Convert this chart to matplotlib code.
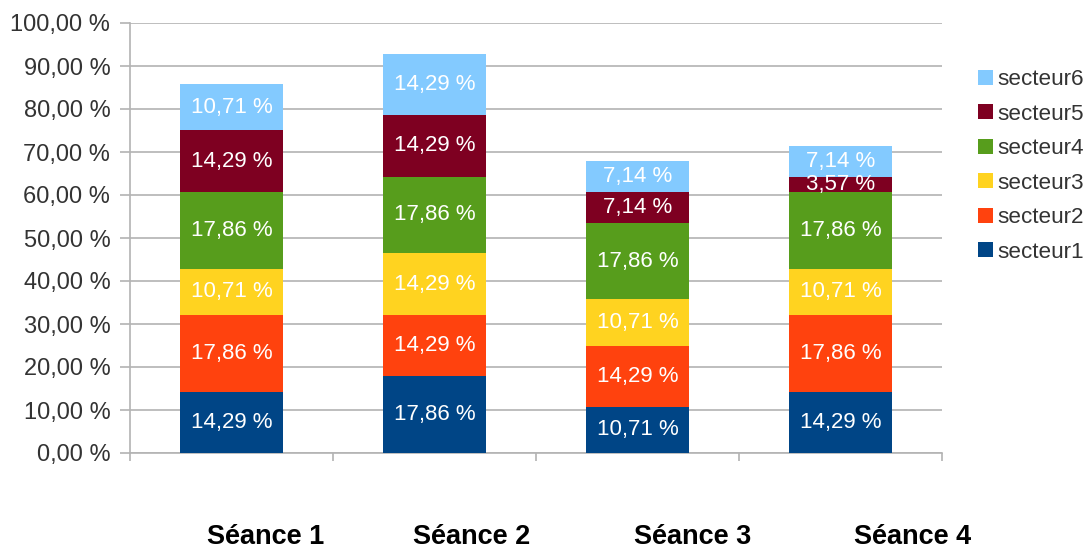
import matplotlib
matplotlib.use("Agg")
import matplotlib.pyplot as plt
import numpy as np
from matplotlib.patches import Patch

plt.rcParams['font.family'] = ['Liberation Sans', 'DejaVu Sans']

categories = ["Séance 1", "Séance 2", "Séance 3", "Séance 4"]
series_names = ["secteur1", "secteur2", "secteur3", "secteur4", "secteur5", "secteur6"]
secteur1 = [14.29, 17.86, 10.71, 14.29]
secteur2 = [17.86, 14.29, 14.29, 17.86]
secteur3 = [10.71, 14.29, 10.71, 10.71]
secteur4 = [17.86, 17.86, 17.86, 17.86]
secteur5 = [14.29, 14.29, 7.14, 3.57]
secteur6 = [10.71, 14.29, 7.14, 7.14]
series = [secteur1, secteur2, secteur3, secteur4, secteur5, secteur6]
colors = ["#004586", "#ff420e", "#ffd320", "#579d1c", "#7e0021", "#83caff"]
yticks = list(range(0, 101, 10))

W, H = 1091, 551
# pixel centres of the category captions (layout, as in the reference)
caption_x_px = [266, 472, 693, 913]
caption_y_px = 537

fig = plt.figure(figsize=(W / 100, H / 100), dpi=100)
ax = fig.add_axes([130 / W, (H - 453) / H, (942 - 130) / W, (453 - 23) / H])

x = np.arange(len(categories)) + 0.5
bottom = np.zeros(len(categories))
for name, vals, col in zip(series_names, series, colors):
    vals = np.array(vals)
    ax.bar(x, vals, width=0.505, bottom=bottom, color=col, label=name, zorder=3)
    for xi, b, v in zip(x, bottom, vals):
        ax.text(xi, b + v / 2, f"{v:.2f} %".replace(".", ","), ha="center", va="center",
                color="white", fontsize=16, zorder=4)
    bottom = bottom + vals

ax.set_xlim(0, 4)
ax.set_ylim(0, 100)
gc = "#b3b3b3"
ax.set_yticks(yticks)
ax.set_yticklabels([f"{v:.2f} %".replace(".", ",") for v in yticks], fontsize=17, color="#333333")
ax.yaxis.grid(True, color=gc, linewidth=1.2, zorder=0)
ax.tick_params(axis="y", length=7.2, width=1.2, color=gc, pad=7)

ax.set_xticks([0, 1, 2, 3, 4])
ax.set_xticklabels([])
ax.tick_params(axis="x", length=6, width=1.2, color=gc)

for cx, cat in zip(caption_x_px, categories):
    fig.text(cx / W, 1 - caption_y_px / H, cat, ha="center", va="center",
             fontsize=19.5, fontweight="bold", color="black")

for s in ["top", "right"]:
    ax.spines[s].set_visible(False)
for s in ["left", "bottom"]:
    ax.spines[s].set_color(gc)
    ax.spines[s].set_linewidth(1.2)
ax.set_axisbelow(True)

handles = [Patch(facecolor=c, label=n) for n, c in zip(series_names, colors)][::-1]
fig.legend(handles=handles, loc="upper left", bbox_to_anchor=(967 / W, 1 - 58 / H),
           frameon=False, fontsize=16.2, handlelength=0.65, handleheight=0.65,
           handletextpad=0.2, labelspacing=0.6, borderpad=0, labelcolor="#333333")

fig.savefig("out.png", dpi=100)
